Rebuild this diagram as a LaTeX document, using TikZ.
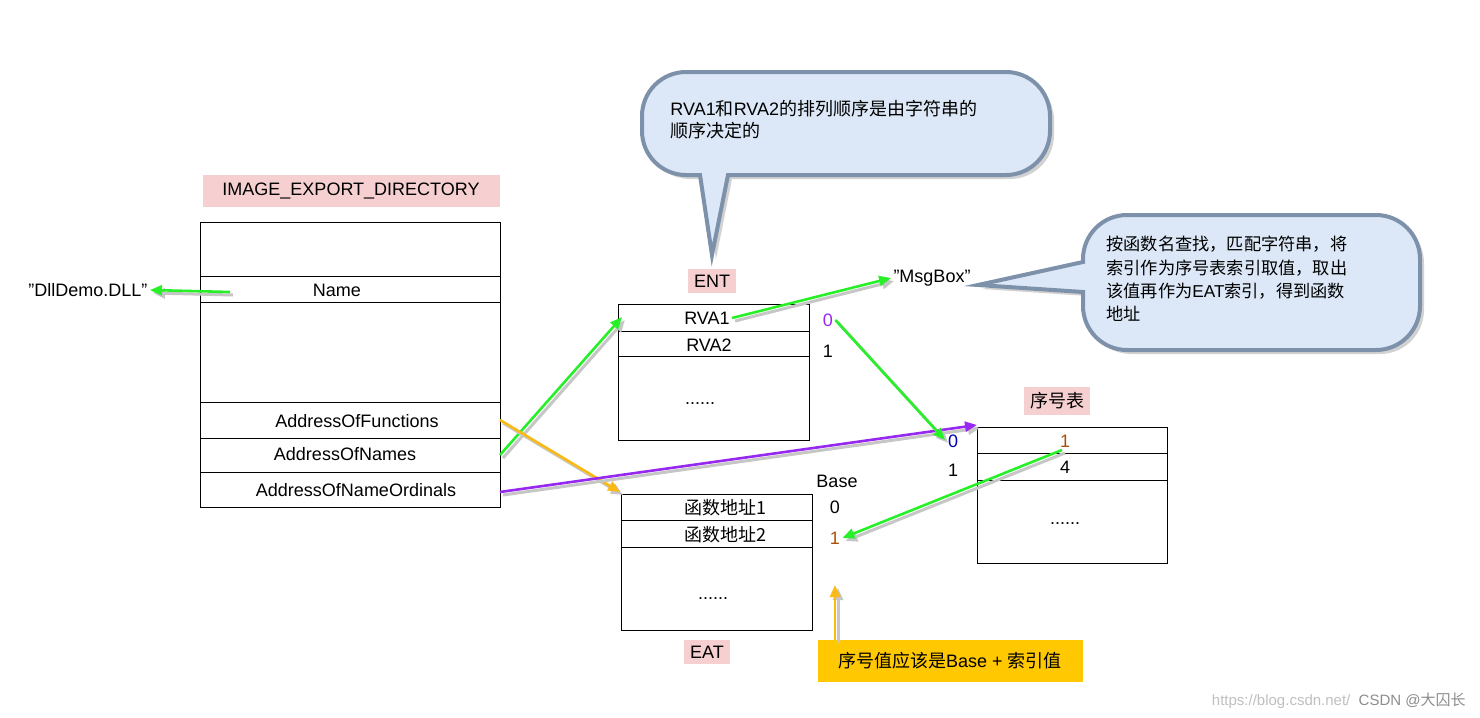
\documentclass[tikz,border=0pt]{standalone}
\usepackage{fontspec}
\setmainfont{Liberation Sans}
\newfontfamily\cjk{Noto Sans CJK SC}
\usetikzlibrary{arrows.meta}
\definecolor{pinkl}{RGB}{246,208,208}
\definecolor{cfill}{RGB}{220,232,247}
\definecolor{cdraw}{RGB}{125,145,170}
\definecolor{grn}{RGB}{40,240,40}
\definecolor{org}{RGB}{250,185,20}
\definecolor{pur}{RGB}{150,40,240}
\definecolor{brn}{RGB}{170,80,10}
\definecolor{ylw}{RGB}{255,200,0}
\tikzset{
 every node/.style={font=\fontsize{9}{11}\selectfont, inner sep=1pt},
 box/.style={draw, line width=0.5pt},
 lbl/.style={fill=pinkl, inner sep=3pt},
 arr/.style={-{Triangle[length=6pt,width=5pt]}, line width=1.3pt,
   preaction={draw=gray!45, line width=1.5pt, transform canvas={shift={(1.5pt,-1.5pt)}}}},
 callout/.style={fill=cfill, draw=cdraw, line width=2pt,
   preaction={fill=gray!35, transform canvas={shift={(2pt,-2pt)}}}},
}
\begin{document}
\begin{tikzpicture}[x=0.5pt,y=-0.5pt]
\useasboundingbox (0,0) rectangle (1480,718);
% callouts
\path[callout] (700,175) [rounded corners=22] -- (642,175) -- (642,72) -- (1050,72) -- (1050,175) [sharp corners] -- (728,175) -- (712,255) -- cycle;
\path[callout] (1083,262) [rounded corners=22] -- (1083,215) -- (1420,215) -- (1420,350) -- (1083,350) [sharp corners] -- (1083,292) -- (978,285) -- cycle;
\node[anchor=north west, align=left, text width=340] (c1) at (668,98) {RVA1{\cjk 和}RVA2{\cjk 的排列顺序是由字符串的}\\{\cjk 顺序决定的}};
\node[anchor=north west, align=left, text width=290, font=\fontsize{8.6}{11.6}\selectfont] (c2) at (1104,234) {{\cjk 按函数名查找，匹配字符串，将}\\{\cjk 索引作为序号表索引取值，取出}\\{\cjk 该值再作为}EAT{\cjk 索引，得到函数}\\{\cjk 地址}};
% left table
\draw[box] (200,222) rectangle (500,507);
\foreach \y in {276,302,402,438,472} \draw[box] (200,\y) -- (500,\y);
\node[lbl, minimum width=148.5pt, minimum height=16pt] (ied) at (351,191) {IMAGE\_EXPORT\_DIRECTORY};
\node (name) at (337,290) {Name};
\node (aof) at (357,421) {AddressOfFunctions};
\node (aon) at (345,454) {AddressOfNames};
\node (aono) at (356,490) {AddressOfNameOrdinals};
\node (dll) at (88,290) {"DllDemo.DLL"};
\coordinate (namel) at (230,292);
% ENT
\node[lbl] (ent) at (712,281) {ENT};
\draw[box] (618,304) rectangle (809,440);
\draw[box] (618,331) -- (809,331) (618,356) -- (809,356);
\node (rva1) at (707,318) {RVA1};
\node (rva2) at (709,345) {RVA2};
\node (ed) at (700,404) {......};
\node[text=pur] (e0) at (828,320) {0};
\node (e1) at (828,351) {1};
\node (msg) at (932,278) {"MsgBox"};
% ordinal table
\node[lbl, font=\cjk\fontsize{9}{11}\selectfont] (ord) at (1057,401) {序号表};
\draw[box] (977,427) rectangle (1167,563);
\draw[box] (977,453) -- (1167,453) (977,480) -- (1167,480);
\node[text=brn] (o1) at (1065,441) {1};
\node (o4) at (1065,467) {4};
\node (od) at (1065,524) {......};
\node[text=blue!70!black] (l0) at (953,441) {0};
\node (l1) at (953,470) {1};
% EAT
\draw[box] (621,494) rectangle (812,630);
\draw[box] (621,520) -- (812,520) (621,547) -- (812,547);
\node[font=\cjk\fontsize{9}{11}\selectfont] (f1) at (725,508) {函数地址1};
\node[font=\cjk\fontsize{9}{11}\selectfont] (f2) at (725,535) {函数地址2};
\node (fd) at (713,599) {......};
\node (base) at (837,481) {Base};
\node (b0) at (835,507) {0};
\node[text=brn] (b1) at (835,538) {1};
\node[lbl] (eat) at (707,652) {EAT};
\node[fill=ylw, minimum width=132.5pt, minimum height=21pt, inner sep=2pt] (yb) at (950,661) {{\cjk 序号值应该是}Base + {\cjk 索引值}};
\coordinate (yt) at (835,585);
% arrows
\draw[arr, grn] (namel) -- (dll.east);
\draw[arr, grn] (500,455) -- (622,317);
\draw[arr, org] (500,420) -- (620,492);
\draw[arr, pur] (500,492) -- (977,425);
\draw[arr, grn] (rva1.east) -- (msg.west);
\draw[arr, grn] (e0.east) -- (945,440);
\draw[arr, grn] (1062,450) -- (b1.east);
\draw[arr, org] (yb.north west -| yt) -- (yt);
\node[text=gray!50, font=\fontsize{7.5}{9}\selectfont, anchor=east] (wm) at (1468,701) {https://blog.csdn.net/\ \ \textcolor{gray!90}{CSDN @{\cjk 大囚长}}};
\end{tikzpicture}
\end{document}
